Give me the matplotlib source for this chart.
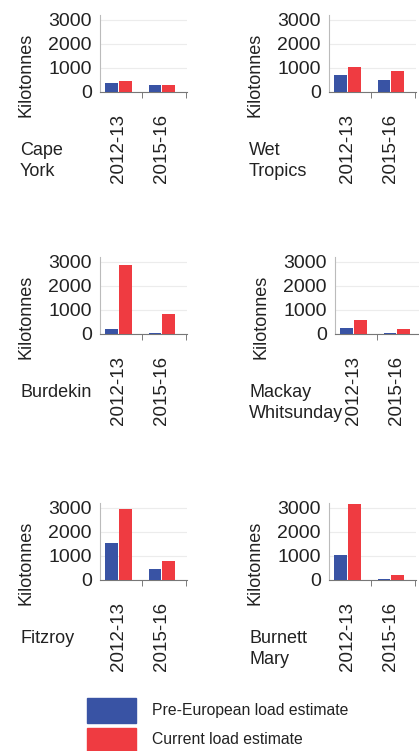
"""Sediment loads per region: pre-European vs current estimates"""
import matplotlib
matplotlib.use("Agg")
import matplotlib.pyplot as plt
from matplotlib.patches import Rectangle

plt.rcParams['font.family'] = ['Liberation Sans', 'DejaVu Sans']

# Данные
regions = ["Cape\nYork", "Wet\nTropics", "Burdekin", "Mackay\nWhitsunday", "Fitzroy", "Burnett\nMary"]
years = ["2012-13", "2015-16"]
pre_european = [[380, 290], [690, 490], [210, 30], [260, 30], [1520, 460], [1030, 30]]
current = [[460, 290], [1040, 890], [2850, 830], [600, 190], [2950, 790], [3150, 200]]

blue = '#3953a4'
red = '#ef3b41'
text_col = '#222222'

W, H = 419, 751
fig = plt.figure(figsize=(W / 100, H / 100), dpi=100)

col_left = [100, 329]
row_base = [92, 334, 580]
shift = [0, 0, 0, 6, 0, 0]  # Mackay panel is a bit to the right
ax_w = 87
ax_h = 77
ymax = 3200

for i, name in enumerate(regions):
    r, c = divmod(i, 2)
    left = col_left[c] + shift[i]
    base = row_base[r]
    ax = fig.add_axes([left / W, (H - base) / H, ax_w / W, ax_h / H])
    x = range(len(years))
    ax.bar([k - 0.16 for k in x], pre_european[i], width=0.29, color=blue, zorder=3)
    ax.bar([k + 0.16 for k in x], current[i], width=0.29, color=red, zorder=3)
    ax.set_xlim(-0.42, 1.58)
    ax.set_ylim(0, ymax)
    ax.set_yticks([0, 1000, 2000, 3000])
    ax.grid(axis='y', color='#ececec', lw=0.8, zorder=0)
    ax.set_xticks(list(x))
    ax.set_xticklabels(years, rotation=90)
    ax.set_xticks([0.55, 1.55], minor=True)
    ax.tick_params(axis='x', which='major', length=0, pad=16, labelsize=13.5, labelcolor=text_col)
    ax.tick_params(axis='x', which='minor', length=4, color='#666666', direction='out')
    ax.tick_params(axis='y', length=0, pad=6, labelsize=14, labelcolor=text_col)
    for s in ['top', 'right']:
        ax.spines[s].set_visible(False)
    ax.spines['left'].set_color('#bbbbbb')
    ax.spines['bottom'].set_color('#777777')
    ax.set_ylabel("Kilotonnes", fontsize=13, color=text_col)
    ax.yaxis.set_label_coords(-0.75, 0.22)
    ax.patch.set_alpha(0)
    # Название региона
    fig.text((col_left[c] - 80) / W, (H - base - 50) / H, name, fontsize=13, color=text_col,
             ha='left', va='top', linespacing=1.3)

# Легенда
fig.patches.append(Rectangle((87 / W, (H - 723) / H), 49 / W, 25 / H, color=blue,
                             transform=fig.transFigure, figure=fig))
fig.patches.append(Rectangle((87 / W, (H - 751) / H), 49 / W, 23 / H, color=red,
                             transform=fig.transFigure, figure=fig))
fig.text(152 / W, (H - 711) / H, "Pre-European load estimate", fontsize=11.3, color=text_col, va='center')
fig.text(152 / W, (H - 740) / H, "Current load estimate", fontsize=11.3, color=text_col, va='center')

fig.savefig("out.png", dpi=100)
